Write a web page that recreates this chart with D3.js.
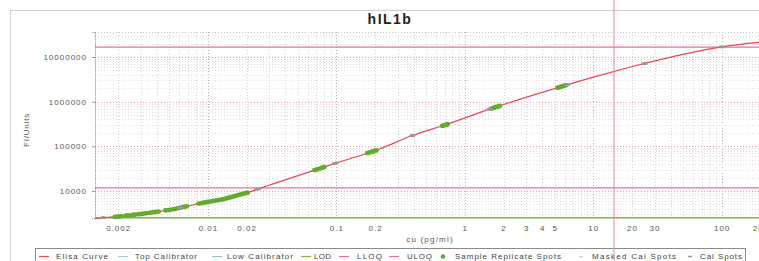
<!DOCTYPE html>
<html><head><meta charset="utf-8">
<script src="https://cdn.jsdelivr.net/npm/d3@7"></script>
<style>
html,body{margin:0;padding:0;background:#fff;}
svg{display:block;}
text{font-family:"Liberation Sans",Arial,sans-serif;}
</style></head>
<body>
<script>
// ---- data ----
const title = "hIL1b";
const xLabel = "cu (pg/ml)";
const yLabel = "FI/Units";
const xTickValues = [0.002,0.01,0.02,0.1,0.2,1,2,3,4,5,10,20,30,100,200];
const yTickValues = [10000,100000,1000000,10000000];
// Elisa curve
const curveX = [0.00132,0.00196,0.00296,0.00401,0.00534,0.00867,0.0131,0.0201,0.0303,0.0744,0.103,0.1995,0.401,0.698,1.71,5.79,11.2,19.2,25.2,100,194,300];
const curveY = [2450,2660,3055,3440,3900,5310,6520,9160,13600,32200,43900,79800,179000,300000,745000,2230000,3870000,5890000,7200000,16900000,21200000,23500000];
// sample replicate spots
const sampleX = [0.0019,0.0020,0.0021,0.0023,0.0024,0.0026,0.0027,0.0029,0.0031,0.0033,0.0035,0.0037,0.0039,0.0041,
  0.0047,0.0049,0.0052,0.0055,0.0058,0.0061,0.0065,0.0068,
  0.0085,0.0090,0.0095,0.0100,0.0106,0.0112,0.0118,0.0124,0.0130,0.0137,0.0144,0.0151,0.0159,0.0167,0.0175,0.0184,0.0193,0.0202,
  0.068,0.071,0.074,0.077,0.080,
  0.175,0.182,0.189,0.196,0.203,
  0.67,0.69,0.71,0.73,
  1.62,1.68,1.74,1.80,1.86,
  5.3,5.5,5.7,5.9,6.1];
const sampleY = [2633,2679,2723,2807,2848,2925,2962,3035,3110,3190,3265,3340,3408,3475,
  3690,3755,3855,3970,4110,4245,4420,4550,
  5260,5410,5560,5700,5870,6030,6190,6360,6500,6760,7030,7300,7600,7910,8220,8550,8880,9180,
  29500,30760,32000,33250,34500,
  70900,73400,76000,78500,81100,
  288600,296800,305000,313800,
  705600,731600,756400,780000,803500,
  2063000,2133000,2203000,2275000,2352000];
// calibrator spots
const calX = [0.00153,0.0061,0.0244,0.0977,0.390625,1.5625,6.25,25,100];
const calY = [2526,4240,11040,41800,173800,679600,2410000,7150000,16900000];
// reference lines
const uloq = 16700000;
const lloq = 11700;
const lod = 2450;
const cursorX = 14.5;
const legendItems = ["Elisa Curve","Top Calibrator","Low Calibrator","LOD","LLOQ","ULOQ","Sample Replicate Spots","Masked Cal Spots","Cal Spots"];

// ---- drawing ----
const W = 759, H = 261;
const svg = d3.select("body").append("svg").attr("width",W).attr("height",H);
const x = d3.scaleLog().domain([0.00132,300]).range([95,783]);
const y = d3.scaleLog().domain([2450,36300000]).range([218.3,32]);
const pL = 95, pR = W, pT = 32, pB = 218.3;

// outer panel
svg.append("path").attr("d",`M10.5,${H} V10.5 H${W}`).attr("fill","none").attr("stroke","#cfcfcf").attr("stroke-width",1);

svg.append("clipPath").attr("id","pc").append("rect")
  .attr("x",pL).attr("y",pT-1).attr("width",pR-pL).attr("height",pB-pT+2);
const g = svg.append("g").attr("clip-path","url(#pc)");

// grid
const xMinor = [], yMinor = [];
for (let e=-3;e<=2;e++) for (let m=1;m<=9;m++){ const v=m*Math.pow(10,e); if(v>=0.00132&&v<=300) xMinor.push({v,major:m===1}); }
for (let e=3;e<=7;e++) for (let m=1;m<=9;m++){ const v=m*Math.pow(10,e); if(v>=2450&&v<=36300000) yMinor.push({v,major:m===1}); }
g.selectAll(".vg").data(xMinor).join("line")
  .attr("x1",d=>Math.round(x(d.v))+0.5).attr("x2",d=>Math.round(x(d.v))+0.5)
  .attr("y1",pT).attr("y2",pB)
  .attr("stroke",d=>d.major?"#b8b0b0":"#d8d2d2").attr("stroke-dasharray","1,2").attr("stroke-width",1);
g.selectAll(".hg").data(yMinor).join("line")
  .attr("y1",d=>Math.round(y(d.v))+0.5).attr("y2",d=>Math.round(y(d.v))+0.5)
  .attr("x1",pL).attr("x2",pR)
  .attr("stroke",d=>d.major?"#e0a8b0":"#e4dcdc").attr("stroke-dasharray","1,2").attr("stroke-width",1);
svg.append("line").attr("x1",pL).attr("x2",pR).attr("y1",pT+0.5).attr("y2",pT+0.5)
  .attr("stroke","#c8c0c0").attr("stroke-dasharray","1,2");

// axes
const yAxis = d3.axisLeft(y).tickValues(yTickValues).tickFormat(d3.format("d")).tickSize(3).tickPadding(5);
const ya = svg.append("g").attr("transform",`translate(${pL},0)`).call(yAxis);
ya.select(".domain").attr("stroke","#888").attr("stroke-dasharray","1,1");
ya.selectAll(".tick line").attr("stroke","#999");
ya.selectAll("text").attr("font-size",8).attr("fill","#555").attr("letter-spacing","1px");

const xAxis = d3.axisBottom(x).tickValues(xTickValues).tickFormat(d=>String(d)).tickSize(0).tickPadding(7);
const xa = svg.append("g").attr("transform",`translate(0,${pB})`).call(xAxis);
xa.select(".domain").remove();
xa.selectAll("text").attr("font-size",8).attr("fill","#555").attr("letter-spacing","1px");

// reference lines
g.append("line").attr("x1",pL).attr("x2",pR).attr("y1",y(uloq)).attr("y2",y(uloq)).attr("stroke","#e8709c").attr("stroke-width",1.2);
g.append("line").attr("x1",pL).attr("x2",pR).attr("y1",y(lloq)).attr("y2",y(lloq)).attr("stroke","#e8709c").attr("stroke-width",1.2);
g.append("line").attr("x1",pL).attr("x2",pR).attr("y1",y(lod)-0.5).attr("y2",y(lod)-0.5).attr("stroke","#7cb648").attr("stroke-width",1.6);

// curve
const pts = curveX.map((v,i)=>[x(v),y(curveY[i])]);
g.append("path").attr("d",d3.line().curve(d3.curveMonotoneX)(pts))
  .attr("fill","none").attr("stroke","#ec4650").attr("stroke-width",1.2);

// sample spots
g.selectAll(".ss").data(sampleX.map((v,i)=>[v,sampleY[i]])).join("ellipse")
  .attr("cx",d=>x(d[0])).attr("cy",d=>y(d[1])).attr("rx",2.8).attr("ry",2.3)
  .attr("fill","#62ab2c");
// cal spots
g.selectAll(".cs").data(calX.map((v,i)=>[v,calY[i]])).join("ellipse")
  .attr("cx",d=>x(d[0])).attr("cy",d=>y(d[1])).attr("rx",3.2).attr("ry",1.6)
  .attr("fill","#9a9696");

// title & labels
svg.append("text").attr("x",390).attr("y",24).attr("text-anchor","middle")
  .attr("font-family","DejaVu Sans").attr("font-weight","bold").attr("font-size",14).attr("letter-spacing","1.5px")
  .attr("fill","#222").text(title);
svg.append("text").attr("x",430).attr("y",242).attr("text-anchor","middle")
  .attr("font-size",8).attr("fill","#555").attr("letter-spacing","1.2px").text(xLabel);
svg.append("text").attr("transform","translate(29,130) rotate(-90)").attr("text-anchor","middle")
  .attr("font-size",8).attr("fill","#555").attr("letter-spacing","0.8px").text(yLabel);

// legend
svg.append("rect").attr("x",35.5).attr("y",248.5).attr("width",710).attr("height",20)
  .attr("fill","#fff").attr("stroke","#8a8a8a");
const lgX = [39,118,212,301,339,389,440,578,687];
const lgT = [56,135,227,314,357,407,455,592,700];
const lgW = [52,62,66,17,25,25,106,84,42];
const lgKind = ["line","line","line","line","line","line","dot","dash","dash"];
const lgCol = ["#ec4650","#9fd0d8","#8cc8c0","#7cb648","#e8709c","#e8709c","#62ab2c","#cfcfcf","#9a9696"];
const ly = 256.5;
legendItems.forEach((t,i)=>{
  if(lgKind[i]==="line") svg.append("line").attr("x1",lgX[i]).attr("x2",lgX[i]+10).attr("y1",ly).attr("y2",ly).attr("stroke",lgCol[i]).attr("stroke-width",1.2);
  else if(lgKind[i]==="dot") svg.append("circle").attr("cx",lgX[i]+3).attr("cy",ly).attr("r",2.3).attr("fill",lgCol[i]);
  else svg.append("line").attr("x1",lgX[i]+1).attr("x2",lgX[i]+5).attr("y1",ly).attr("y2",ly).attr("stroke",lgCol[i]).attr("stroke-width",1.5);
  svg.append("text").attr("x",lgT[i]).attr("y",ly+2.8).attr("font-size",8)
    .attr("textLength",lgW[i]).attr("lengthAdjust","spacing").attr("fill","#444").text(t);
});

// cursor line
svg.append("line").attr("x1",x(cursorX)).attr("x2",x(cursorX)).attr("y1",0).attr("y2",H)
  .attr("stroke","#ee80a8").attr("stroke-width",1);
</script>
</body></html>
